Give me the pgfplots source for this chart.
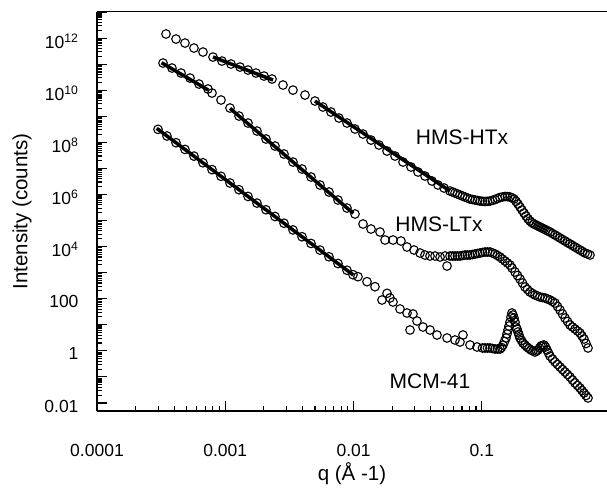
\documentclass[border=0pt]{standalone}
\usepackage{pgfplots}
\pgfplotsset{compat=1.18}
\usepackage{fontspec}
\setmainfont{Liberation Sans}
\begin{document}
\begin{tikzpicture}
\begin{axis}[
  xmode=log, ymode=log,
  scale only axis, width=510bp, height=399bp,
  xmin=1e-4, xmax=0.944, ymin=0.00493, ymax=1e13,
  axis x line*=bottom, axis y line*=left,
  axis line style={line width=1.8bp,-},
  y axis line style={line width=2.6bp},
  tick align=inside,
  major tick length=10bp, minor tick length=5.5bp,
  every tick/.style={black, line width=1.1bp},
  xtickten={-4,-3,-2,-1},
  xticklabels={0.0001,0.001,0.01,0.1},
  ytickten={-2,...,13},
  yticklabels={0.01,,1,,100,,10\textsuperscript{4},,10\textsuperscript{6},,10\textsuperscript{8},,10\textsuperscript{10},,10\textsuperscript{12},},
  ticklabel style={font=\fontsize{17.5bp}{20bp}\selectfont},
  xticklabel style={anchor=base, yshift=-45bp},
  yticklabel style={anchor=east, xshift=-15bp, yshift=-3bp},
  label style={font=\fontsize{20.5bp}{24bp}\selectfont},
  xlabel={q (Å -1)},
  ylabel={Intensity (counts)},
  xlabel style={at={(axis description cs:0.5,-0.173)}, anchor=base},
  ylabel style={at={(axis description cs:-0.147,0.5)}, anchor=center},
  mk/.style={only marks, mark=o, mark size=4.3bp, black, mark options={line width=1.1bp}},
]
% HMS-HTx
\addplot[mk] coordinates {
(3.45e-4,1.43e12) (4.13e-4,9.17e11) (4.85e-4,6.44e11) (5.70e-4,4.14e11) (6.70e-4,2.91e11)
(8.02e-4,1.87e11) (9.42e-4,1.31e11) (1.108e-3,1.01e11) (1.302e-3,7.73e10) (1.503e-3,5.93e10)
(1.735e-3,4.55e10) (2.003e-3,3.49e10) (2.312e-3,2.68e10) (2.817e-3,1.58e10) (3.371e-3,1.01e10)
(4.18e-3,6.52e9) (5.00e-3,3.84e9) (5.77e-3,2.26e9) (6.66e-3,1.45e9) (7.69e-3,8.55e8)
(8.88e-3,5.50e8) (1.025e-2,3.24e8) (1.184e-2,2.08e8) (1.367e-2,1.22e8) (1.578e-2,7.87e7)
(1.822e-2,4.63e7) (2.103e-2,2.98e7) (2.427e-2,1.75e7) (2.802e-2,1.13e7) (3.177e-2,7.26e6)
(3.60e-2,5.09e6) (4.08e-2,3.28e6) (4.55e-2,2.30e6) (5.07e-2,1.77e6) (5.64e-2,1.36e6)
(6.17e-2,1.14e6) (6.75e-2,9.52e5) (7.38e-2,7.98e5) (8.08e-2,6.68e5) (8.84e-2,6.12e5)
(9.66e-2,5.60e5) (0.1057,5.36e5) (0.1157,5.60e5) (0.1265,6.40e5) (0.1384,7.64e5)
(0.1514,8.34e5) (0.1656,7.98e5) (0.1779,6.68e5) (0.1911,4.30e5) (0.2053,2.53e5)
(0.2206,1.49e5) (0.2370,9.58e4) (0.2547,7.35e4) (0.2736,6.15e4) (0.2939,5.16e4)
(0.3158,4.33e4) (0.3395,3.62e4) (0.3714,2.78e4) (0.4062,2.13e4) (0.4443,1.64e4)
(0.4860,1.26e4) (0.5315,9.64e3) (0.5813,7.40e3) (0.6359,5.67e3) (0.6955,4.75e3)
};
\addplot[mk] coordinates {
(0.05901,1.24e6) (0.06454,1.04e6) (0.07060,8.71e5) (0.07722,7.30e5) (0.08447,6.40e5)
(0.09240,5.86e5) (0.1011,5.46e5) (0.1106,5.46e5) (0.1210,5.96e5) (0.1323,6.99e5)
(0.1447,7.98e5) (0.1583,8.26e5) (0.1716,7.43e5) (0.1845,5.46e5) (0.1982,3.30e5)
(0.2129,1.94e5) (0.2287,1.17e5) (0.2457,8.24e4) (0.2640,6.73e4) (0.2837,5.64e4)
(0.3048,4.72e4) (0.3275,3.96e4) (0.3551,3.18e4) (0.3884,2.44e4) (0.4248,1.87e4)
(0.4648,1.43e4) (0.5083,1.10e4) (0.5560,8.44e3) (0.6082,6.48e3) (0.6653,5.19e3)
};
% HMS-LTx
\addplot[mk] coordinates {
(3.27e-4,1.10e11) (3.84e-4,7.08e10) (4.52e-4,4.55e10) (5.31e-4,2.92e10) (6.24e-4,1.72e10)
(7.33e-4,1.11e10) (7.88e-4,7.78e9) (9.26e-4,4.20e9) (1.088e-3,2.07e9) (1.279e-3,1.02e9)
(1.503e-3,5.50e8) (1.766e-3,2.71e8) (2.076e-3,1.34e8) (2.440e-3,7.21e7) (2.868e-3,3.56e7)
(3.371e-3,1.75e7) (3.962e-3,9.46e6) (4.656e-3,4.67e6) (5.472e-3,2.30e6) (6.432e-3,1.24e6)
(7.557e-3,6.12e5) (8.88e-3,3.02e5) (1.025e-2,1.78e5) (1.184e-2,7.35e4) (1.367e-2,4.72e4)
(1.607e-2,3.62e4) (1.757e-2,1.79e4) (2.028e-2,1.79e4) (2.342e-2,1.64e4) (2.608e-2,9.64e3)
(2.957e-2,7.40e3) (3.293e-2,5.67e3) (3.60e-2,4.75e3) (3.94e-2,4.35e3) (4.31e-2,4.35e3)
(4.72e-2,3.98e3) (5.16e-2,4.35e3) (5.35e-2,1.80e3) (5.64e-2,4.35e3) (6.17e-2,4.35e3)
(6.75e-2,4.35e3) (7.38e-2,4.75e3) (8.08e-2,4.75e3) (8.84e-2,5.19e3) (9.66e-2,5.67e3)
(0.1057,6.19e3) (0.1157,6.19e3) (0.1265,5.19e3) (0.1384,3.98e3) (0.1514,2.80e3)
(0.1656,1.96e3) (0.1811,1.06e3) (0.1982,570) (0.2168,282) (0.2370,181)
(0.2593,139) (0.2837,116) (0.3103,107) (0.3395,89.3) (0.3714,68.5)
(0.4062,36.9) (0.4443,18.2) (0.4860,9.82) (0.5315,6.90) (0.5813,4.84)
(0.6246,2.85) (0.6714,1.29)
};
\addplot[mk] coordinates {
(0.05901,4.35e3) (0.06454,4.35e3) (0.07060,4.55e3) (0.07722,4.75e3) (0.08447,4.97e3)
(0.09240,5.43e3) (0.1011,5.93e3) (0.1106,6.19e3) (0.1210,5.67e3) (0.1323,4.55e3)
(0.1447,3.34e3) (0.1583,2.34e3) (0.1716,1.51e3) (0.1895,778) (0.2072,401)
(0.2267,226) (0.2480,159) (0.2713,127) (0.2967,111) (0.3246,97.6)
(0.3551,78.2) (0.3884,50.3) (0.4248,25.9) (0.4648,13.4) (0.5083,8.23)
(0.5560,5.78) (0.6028,3.72) (0.6477,1.92)
};
% MCM-41
\addplot[mk] coordinates {
(2.99e-4,3.15e8) (3.51e-4,1.75e8) (4.13e-4,9.66e7) (4.85e-4,5.35e7) (5.70e-4,2.96e7)
(6.70e-4,1.64e7) (7.88e-4,8.97e6) (9.26e-4,4.97e6) (1.088e-3,2.75e6) (1.279e-3,1.52e6)
(1.503e-3,8.41e5) (1.766e-3,4.66e5) (2.076e-3,2.58e5) (2.440e-3,1.43e5) (2.868e-3,7.88e4)
(3.371e-3,4.36e4) (3.962e-3,2.39e4) (4.656e-3,1.32e4) (5.472e-3,7.33e3) (6.432e-3,4.06e3)
(7.557e-3,2.24e3) (8.88e-3,1.24e3) (9.89e-3,834) (1.082e-2,700) (1.272e-2,450)
(1.468e-2,289) (1.665e-2,89.3) (1.822e-2,161) (1.922e-2,107) (2.028e-2,74.8)
(2.300e-2,40.4) (2.608e-2,28.3) (2.753e-2,6.31) (2.904e-2,25.9) (3.120e-2,14.0)
(3.475e-2,8.22) (3.94e-2,6.31) (4.47e-2,4.06) (5.35e-2,3.11) (6.17e-2,2.61)
(6.75e-2,2.19) (7.12e-2,4.06) (8.08e-2,1.68) (9.16e-2,1.41) (0.1057,1.29)
(0.1157,1.29) (0.1265,1.18) (0.1384,1.18) (0.1461,1.68) (0.1541,3.11)
(0.1597,6.31) (0.1656,12.8) (0.1716,28.3) (0.1779,18.2) (0.1845,8.22)
(0.1911,5.28) (0.1982,3.11) (0.2091,2.00) (0.2246,1.41) (0.2413,1.08)
(0.2593,0.90) (0.2736,1.08) (0.2888,1.53) (0.3048,1.68) (0.3217,1.08)
(0.3395,0.635) (0.3714,0.374) (0.4062,0.240) (0.4443,0.155) (0.4860,0.0993)
(0.5315,0.0585) (0.5813,0.0376) (0.6246,0.0242) (0.6714,0.0156)
};
\addplot[mk] coordinates {
(0.1011,1.29) (0.1106,1.29) (0.1210,1.23) (0.1323,1.18) (0.1421,1.35)
(0.1501,2.29) (0.1569,4.43) (0.1627,8.99) (0.1686,19.9) (0.1748,23.7)
(0.1811,12.8) (0.1877,6.89) (0.1946,4.06) (0.2035,2.50) (0.2167,1.68)
(0.2329,1.23) (0.2502,0.99) (0.2665,0.99) (0.2811,1.29) (0.2967,1.61)
(0.3131,1.41) (0.3305,0.828) (0.3551,0.487) (0.3884,0.300) (0.4248,0.193)
(0.4648,0.124) (0.5083,0.0762) (0.5560,0.0469) (0.6028,0.0302) (0.6477,0.0194)
};
% fit lines
\addplot[black, line width=3.5bp, no marks] coordinates {(8.02e-4,1.87e11) (2.355e-3,2.45e10)};
\addplot[black, line width=3.5bp, no marks] coordinates {(5.00e-3,3.84e9) (5.64e-2,1.36e6)};
\addplot[black, line width=3.5bp, no marks] coordinates {(3.19e-4,1.13e11) (7.37e-4,1.01e10)};
\addplot[black, line width=3.5bp, no marks] coordinates {(1.088e-3,2.01e9) (9.95e-3,1.89e5)};
\addplot[black, line width=3.5bp, no marks] coordinates {(2.92e-4,3.44e8) (9.95e-3,813)};
% labels
\node[font=\fontsize{21bp}{25bp}\selectfont] at (axis cs:0.070,1.60e8) {HMS-HTx};
\node[font=\fontsize{21bp}{25bp}\selectfont] at (axis cs:0.0463,7.35e4) {HMS-LTx};
\node[font=\fontsize{21bp}{25bp}\selectfont] at (axis cs:0.0394,0.0698) {MCM-41};
\draw[line width=1bp] (rel axis cs:0,1) -- (rel axis cs:1,1);
\end{axis}
\pgfresetboundingbox
\path[use as bounding box] ([shift={(-97bp,-78bp)}]current axis.south west) rectangle ([shift={(0bp,12bp)}]current axis.north east);
\end{tikzpicture}
\end{document}
